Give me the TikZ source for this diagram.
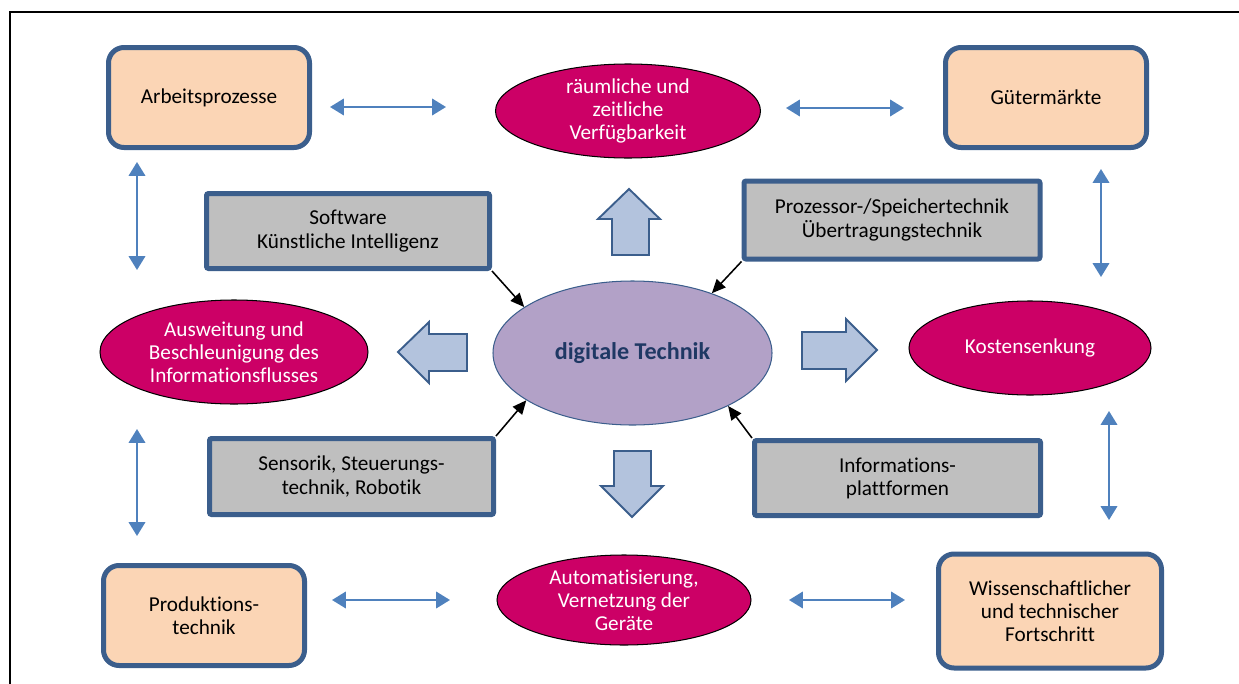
\documentclass[tikz,border=0pt]{standalone}
\usepackage{fontspec}
\setmainfont{Carlito}[RawFeature=-liga]
\usetikzlibrary{shapes.geometric,arrows.meta}

\definecolor{boxpeach}{HTML}{FBD5B5}
\definecolor{boxgrey}{HTML}{BFBFBF}
\definecolor{edgeblue}{HTML}{3B5E8C}
\definecolor{magentafill}{HTML}{CC0066}
\definecolor{lilac}{HTML}{B2A1C7}
\definecolor{darkblue}{HTML}{1F3864}
\definecolor{arrowblue}{HTML}{4F81BD}
\definecolor{blockfill}{HTML}{B3C3DD}

\tikzset{
  x=0.58pt, y=-0.58pt,
  every node/.style={font=\fontsize{12.3}{13.4}\selectfont, align=center, inner sep=0pt},
  peachbox/.style n args={2}{rectangle, rounded corners=9pt, draw=edgeblue, line width=2.9pt,
    fill=boxpeach, minimum width=#1*0.58pt, minimum height=#2*0.58pt},
  greybox/.style n args={2}{rectangle, rounded corners=1.2pt, draw=edgeblue, line width=2.9pt,
    fill=boxgrey, minimum width=#1*0.58pt, minimum height=#2*0.58pt},
  effect/.style n args={2}{ellipse, draw=black, line width=0.6pt, fill=magentafill,
    text=white, minimum width=#1*0.58pt, minimum height=#2*0.58pt},
  both/.style={draw=arrowblue, line width=1.2pt,
    {Triangle[width=9.5pt,length=8pt]}-{Triangle[width=9.5pt,length=8pt]}},
  feed/.style={draw=black, line width=0.9pt, -{Triangle[width=7pt,length=8pt]}},
  block/.style={draw=edgeblue, line width=1.1pt, fill=blockfill, line join=miter}
}

\begin{document}
\begin{tikzpicture}
\useasboundingbox (0,0) rectangle (1239,684);

% outer frame (left and top edge)
\draw[line width=1.3pt] (10,700) -- (10,12) -- (1250,12);

% corner boxes
\node[peachbox={201}{100}] (arb) at (209,97.5) {Arbeitsprozesse};
\node[peachbox={201}{100}] (gut) at (1046,97.5) {Gütermärkte};
\node[peachbox={201}{100}] (prod) at (204,615.5) {Produktions-\\technik};
\node[peachbox={223}{114}] (wiss) at (1050,611) {Wissenschaftlicher\\und technischer\\Fortschritt};

% technology boxes
\node[greybox={283}{75}] (soft) at (348,231) {Software\\Künstliche Intelligenz};
\node[greybox={296}{78}] (proz) at (892,220) {Prozessor-/Speichertechnik\\Übertragungstechnik};
\node[greybox={284}{76}] (sens) at (351.5,476.5) {Sensorik, Steuerungs-\\technik, Robotik};
\node[greybox={286}{75}] (info) at (897.5,478) {Informations-\\plattformen};

% effects
\node[effect={265}{94}] (raum) at (628,111) {räumliche und\\zeitliche\\Verfügbarkeit};
\node[effect={268}{104}] (ausw) at (234,352) {Ausweitung und\\Beschleunigung des\\Informationsflusses};
\node[effect={242}{94}] (kost) at (1030,348) {Kostensenkung};
\node[effect={254}{90}] (auto) at (624,600) {Automatisierung,\\Vernetzung der\\Geräte};

% central ellipse
\node[ellipse, draw=edgeblue, line width=0.6pt, fill=lilac, text=darkblue,
      font=\fontsize{14}{16}\selectfont\bfseries,
      minimum width=279*0.58pt, minimum height=144*0.58pt] (dig) at (632.5,353) {digitale Technik};

% technologies feeding into the centre
\draw[feed] (soft.south east) -- (dig.157);
\draw[feed] (proz.south west) -- (dig.37);
\draw[feed] (sens.north east) -- (dig.204);
\draw[feed] (info.north west) -- (dig.331);

% block arrows from the centre outwards
\draw[block] (629,189) -- (660,219) -- (649,219) -- (649,255) -- (612,255) -- (612,219) -- (598,219) -- cycle;
\draw[block] (398,352) -- (429,322) -- (429,334) -- (467,334) -- (467,371) -- (429,371) -- (429,383) -- cycle;
\draw[block] (877,350) -- (846,319) -- (846,332) -- (802,332) -- (802,369) -- (846,369) -- (846,381) -- cycle;
\draw[block] (632,517) -- (663,486) -- (651,486) -- (651,451) -- (614,451) -- (614,486) -- (601,486) -- cycle;

% interaction arrows
\coordinate (h1a) at (330,107);  \coordinate (h1b) at (446,107);
\coordinate (h2a) at (786,108);  \coordinate (h2b) at (904,108);
\coordinate (h3a) at (332,600);  \coordinate (h3b) at (450,600);
\coordinate (h4a) at (789,600);  \coordinate (h4b) at (905,600);
\coordinate (v1a) at (137,162);  \coordinate (v1b) at (137,270);
\coordinate (v2a) at (137,429);  \coordinate (v2b) at (137,536);
\coordinate (v3a) at (1101,169); \coordinate (v3b) at (1101,277);
\coordinate (v4a) at (1109,411); \coordinate (v4b) at (1109,520);
\draw[both] (h1a) -- (h1b);
\draw[both] (h2a) -- (h2b);
\draw[both] (h3a) -- (h3b);
\draw[both] (h4a) -- (h4b);
\draw[both] (v1a) -- (v1b);
\draw[both] (v2a) -- (v2b);
\draw[both] (v3a) -- (v3b);
\draw[both] (v4a) -- (v4b);
\end{tikzpicture}
\end{document}
